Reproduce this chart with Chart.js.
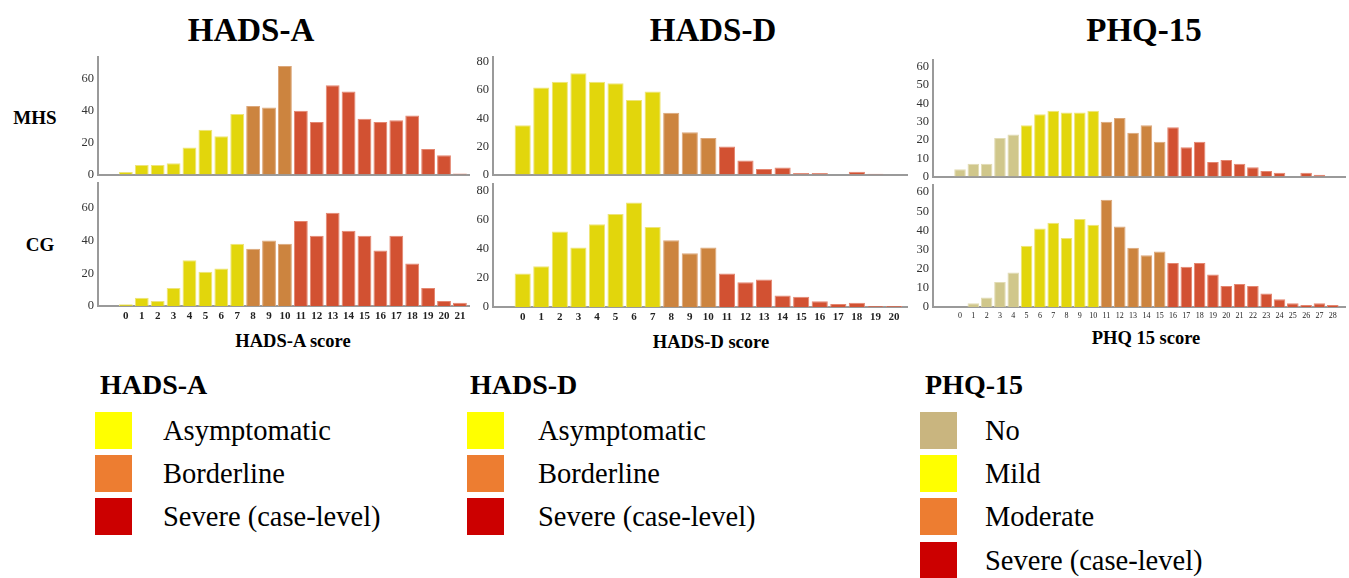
<!DOCTYPE html>
<html>
<head>
<meta charset="utf-8">
<script src="https://cdn.jsdelivr.net/npm/chart.js@4.4.1/dist/chart.umd.min.js"></script>
<style>
  body { margin: 0; background: #fff; width: 1349px; height: 578px; overflow: hidden; position: relative;
         font-family: "Liberation Serif", "DejaVu Serif", serif; color: #000; }
  canvas { position: absolute; }
  .txt { position: absolute; white-space: nowrap; }
  .title { font-weight: bold; font-size: 33px; transform: translate(-50%, -50%); }
  .row { font-weight: bold; font-size: 19px; transform: translate(-50%, -50%); }
  .axt { font-weight: bold; font-size: 18.5px; transform: translate(-50%, -50%); }
  .lgt { font-weight: bold; font-size: 28px; }
  .sw { position: absolute; width: 37px; height: 37px; }
  .lgi { font-size: 28.5px; line-height: 37px; }
</style>
</head>
<body>
<div class="txt title" style="left:251px;top:30px">HADS-A</div>
<div class="txt title" style="left:713px;top:30px">HADS-D</div>
<div class="txt title" style="left:1144px;top:30px">PHQ-15</div>
<div class="txt row" style="left:35px;top:118px">MHS</div>
<div class="txt row" style="left:40px;top:245px">CG</div>
<div class="txt axt" style="left:293px;top:341px">HADS-A score</div>
<div class="txt axt" style="left:711px;top:342px">HADS-D score</div>
<div class="txt axt" style="left:1146px;top:338px">PHQ 15 score</div>
<div id="legends"></div>

<canvas id="hadsA_top"></canvas>
<canvas id="hadsA_bot"></canvas>
<canvas id="hadsD_top"></canvas>
<canvas id="hadsD_bot"></canvas>
<canvas id="phq_top"></canvas>
<canvas id="phq_bot"></canvas>

<script>
// scores (x categories)
const hadsAScores = [0,1,2,3,4,5,6,7,8,9,10,11,12,13,14,15,16,17,18,19,20,21];
const hadsDScores = [0,1,2,3,4,5,6,7,8,9,10,11,12,13,14,15,16,17,18,19,20];
const phqScores = [0,1,2,3,4,5,6,7,8,9,10,11,12,13,14,15,16,17,18,19,20,21,22,23,24,25,26,27,28];

// counts per score
const hadsA_MHS = [1.5,6,6,7,17,28,24,38,43,42,68,40,33,56,52,35,33,34,37,16,12,0.6];
const hadsA_CG  = [1,5,3,11,28,21,23,38,35,40,38,52,43,57,46,43,34,43,26,11,3,2];
const hadsD_MHS = [35,62,66,72,66,65,53,59,44,30,26,20,10,4,5,1,1,0,2,0.5,0];
const hadsD_CG  = [23,28,52,41,57,64,72,55,46,37,41,23,17,19,8,7,4,2,3,0.7,0.7];
const phq_MHS = [4,7,7,21,23,28,34,36,35,35,36,30,32,24,28,19,27,16,19,8,9,7,5,3,2,0,2,1,0];
const phq_CG  = [0,2,5,13,18,32,41,44,36,46,43,56,42,31,27,29,23,21,23,17,11,12,11,7,4,2,1,2,1];

// severity bands: first score of each band after the first
const hadsCuts = [8, 11];
const phqCuts = [5, 11, 16];

const hadsBandNames = ['Asymptomatic', 'Borderline', 'Severe (case-level)'];
const phqBandNames = ['No', 'Mild', 'Moderate', 'Severe (case-level)'];

const hadsBarColors = ['#e2d60c', '#cc843f', '#d25132'];
const hadsBarEdges = ['#eee47a', '#dca77a', '#e48670'];
const phqBarColors = ['#d0c78b', '#e2d60c', '#cc843f', '#d25132'];
const phqBarEdges = ['#e2dcb4', '#eee47a', '#dca77a', '#e48670'];

const hadsSwatches = ['#ffff00', '#ed7d31', '#cc0000'];
const phqSwatches = ['#c9b57f', '#ffff00', '#ed7d31', '#cc0000'];

const serif = '"Liberation Serif", "DejaVu Serif", serif';

function band(score, cuts) {
  let b = 0;
  cuts.forEach(c => { if (score >= c) b++; });
  return b;
}

function makePanel(id, scores, values, cuts, fills, edges, g) {
  const padTop = 10, padRight = 4, yw = 38;
  const xh = g.showX ? 22 : 8;
  const cv = document.getElementById(id);
  cv.width = (g.R - g.L) + yw + padRight;
  cv.height = (g.B - g.T) + padTop + xh;
  cv.style.left = (g.L - yw) + 'px';
  cv.style.top = (g.T - padTop) + 'px';

  return new Chart(cv, {
    type: 'bar',
    data: {
      datasets: [{
        data: scores.map((s, i) => ({ x: s, y: values[i] })),
        backgroundColor: scores.map(s => fills[band(s, cuts)]),
        borderColor: scores.map(s => edges[band(s, cuts)]),
        borderWidth: 1,
        barPercentage: 0.87,
        categoryPercentage: 1
      }]
    },
    options: {
      responsive: false,
      animation: false,
      devicePixelRatio: 1,
      layout: { padding: { top: padTop, right: padRight, left: 0, bottom: 0 } },
      plugins: { legend: { display: false }, tooltip: { enabled: false } },
      scales: {
        x: {
          type: 'linear',
          min: g.xmin,
          max: g.xmax,
          offset: false,
          grid: { display: false, drawTicks: false },
          border: { display: true, color: '#9a9a9a', width: 2 },
          afterBuildTicks: s => { s.ticks = scores.map(v => ({ value: v })); },
          afterFit: s => { s.height = xh; },
          ticks: {
            display: g.showX,
            autoSkip: false,
            maxRotation: 0,
            padding: 4,
            color: '#222',
            font: g.xFont
          }
        },
        y: {
          min: 0,
          max: g.max,
          grid: { display: false, drawTicks: false },
          border: { display: true, color: '#9a9a9a', width: 2 },
          afterBuildTicks: s => {
            const t = [];
            for (let v = 0; v <= g.max; v += g.step) t.push({ value: v });
            s.ticks = t;
          },
          afterFit: s => { s.width = yw; },
          ticks: {
            padding: 4,
            color: '#333',
            font: { family: serif, size: 12.5 }
          }
        }
      }
    }
  });
}

const hadsXFont = { family: serif, size: 11, weight: 'bold' };
const phqXFont = { family: serif, size: 8 };

makePanel('hadsA_top', hadsAScores, hadsA_MHS, hadsCuts, hadsBarColors, hadsBarEdges,
  { L: 98, R: 469, T: 55, B: 178, max: 74, step: 20, xmin: -1.75, xmax: 21.57, showX: false });
makePanel('hadsA_bot', hadsAScores, hadsA_CG, hadsCuts, hadsBarColors, hadsBarEdges,
  { L: 98, R: 469, T: 181, B: 306, max: 75.5, step: 20, xmin: -1.75, xmax: 21.57, showX: true, xFont: hadsXFont });
makePanel('hadsD_top', hadsDScores, hadsD_MHS, hadsCuts, hadsBarColors, hadsBarEdges,
  { L: 493, R: 907, T: 55, B: 178, max: 84, step: 20, xmin: -1.6, xmax: 20.7, showX: false });
makePanel('hadsD_bot', hadsDScores, hadsD_CG, hadsCuts, hadsBarColors, hadsBarEdges,
  { L: 493, R: 907, T: 182, B: 307, max: 85, step: 20, xmin: -1.6, xmax: 20.7, showX: true, xFont: hadsXFont });
makePanel('phq_top', phqScores, phq_MHS, phqCuts, phqBarColors, phqBarEdges,
  { L: 933, R: 1345, T: 58, B: 180, max: 64, step: 10, xmin: -2.03, xmax: 28.92, showX: false });
makePanel('phq_bot', phqScores, phq_CG, phqCuts, phqBarColors, phqBarEdges,
  { L: 933, R: 1345, T: 183, B: 307, max: 64, step: 10, xmin: -2.03, xmax: 28.92, showX: true, xFont: phqXFont });

// legends below the charts
function legend(title, names, swatches, x, titleX, textX) {
  const root = document.getElementById('legends');
  const t = document.createElement('div');
  t.className = 'txt lgt';
  t.style.left = titleX + 'px';
  t.style.top = '369px';
  t.textContent = title;
  root.appendChild(t);
  const tops = [412, 455, 498, 542];
  names.forEach((n, i) => {
    const sw = document.createElement('div');
    sw.className = 'sw';
    sw.style.left = x + 'px';
    sw.style.top = tops[i] + 'px';
    sw.style.background = swatches[i];
    root.appendChild(sw);
    const lb = document.createElement('div');
    lb.className = 'txt lgi';
    lb.style.left = textX + 'px';
    lb.style.top = tops[i] + 'px';
    lb.textContent = n;
    root.appendChild(lb);
  });
}
legend('HADS-A', hadsBandNames, hadsSwatches, 95, 100, 163);
legend('HADS-D', hadsBandNames, hadsSwatches, 467, 470, 538);
legend('PHQ-15', phqBandNames, phqSwatches, 920, 925, 985);
</script>
</body>
</html>
